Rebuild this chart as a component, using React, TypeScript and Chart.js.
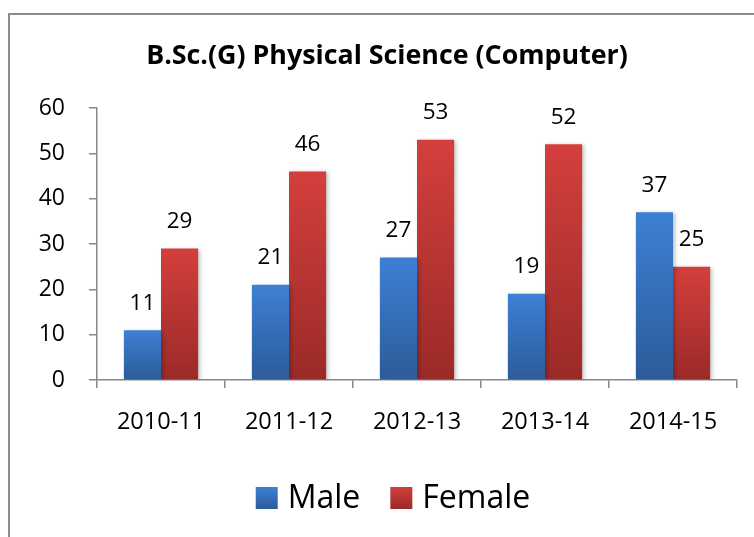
import React, { useEffect, useRef } from "react";
import { Chart, registerables } from "chart.js";

Chart.register(...registerables);

const TITLE = "B.Sc.(G) Physical Science (Computer)";
const CATEGORIES = ["2010-11", "2011-12", "2012-13", "2013-14", "2014-15"];
const MALE = [11, 21, 27, 19, 37];
const FEMALE = [29, 46, 53, 52, 25];
const SERIES_NAMES = ["Male", "Female"];
const Y_TICKS = [0, 10, 20, 30, 40, 50, 60];

const FONT = "'Open Sans', 'DejaVu Sans', sans-serif";

const BLUE_TOP = "#3d80d4";
const BLUE_BOT = "#2c5b99";
const RED_TOP = "#d43f3c";
const RED_BOT = "#9a2a28";

function gradientFill(top: string, bottom: string) {
  return (ctx: any) => {
    const chart = ctx.chart;
    const y = chart.scales && chart.scales.y;
    if (!y || ctx.type !== "data") return top;
    const v = ctx.raw as number;
    const yTop = y.getPixelForValue(v);
    const yBot = y.getPixelForValue(0);
    if (!isFinite(yTop) || !isFinite(yBot) || yTop === yBot) return top;
    const g = chart.ctx.createLinearGradient(0, yTop, 0, yBot);
    g.addColorStop(0, top);
    g.addColorStop(1, bottom);
    return g;
  };
}

const shadowPlugin = {
  id: "barShadow",
  beforeDatasetsDraw(chart: any) {
    const c = chart.ctx;
    c.save();
    c.shadowColor = "rgba(0,0,0,0.25)";
    c.shadowBlur = 4;
    c.shadowOffsetX = 2;
    c.shadowOffsetY = 1;
  },
  afterDatasetsDraw(chart: any) {
    chart.ctx.restore();
  },
};

const labelsPlugin = {
  id: "valueLabels",
  afterDatasetsDraw(chart: any) {
    const c = chart.ctx;
    c.save();
    c.fillStyle = "#000";
    c.font = `22.5px ${FONT}`;
    c.textAlign = "center";
    c.textBaseline = "middle";
    chart.data.datasets.forEach((ds: any, i: number) => {
      const meta = chart.getDatasetMeta(i);
      meta.data.forEach((bar: any, j: number) => {
        c.fillText(String(ds.data[j]), bar.x, bar.y - 27);
      });
    });
    c.restore();
  },
};

const titleLegendPlugin = {
  id: "titleLegend",
  afterDraw(chart: any) {
    const c = chart.ctx;
    c.save();
    // title
    c.fillStyle = "#000";
    c.font = `bold 26.8px ${FONT}`;
    c.textAlign = "center";
    c.textBaseline = "middle";
    c.fillText(TITLE, 387, 56);
    // legend
    c.font = `32px ${FONT}`;
    c.textAlign = "left";
    const box = 22;
    const gap = 10;
    const spacing = 30;
    const widths = chart.data.datasets.map((d: any) => c.measureText(d.label).width);
    const total =
      widths.reduce((a: number, w: number) => a + box + gap + w, 0) +
      spacing * (widths.length - 1);
    let x = 393 - total / 2;
    const cy = 498;
    chart.data.datasets.forEach((d: any, i: number) => {
      const g = c.createLinearGradient(0, cy - box / 2, 0, cy + box / 2);
      g.addColorStop(0, d._top);
      g.addColorStop(1, d._bot);
      c.fillStyle = g;
      c.fillRect(x, cy - box / 2, box, box);
      x += box + gap;
      c.fillStyle = "#000";
      c.fillText(d.label, x, cy + 1);
      x += widths[i] + spacing;
    });
    c.restore();
  },
};

export default function App() {
  const ref = useRef<HTMLCanvasElement | null>(null);

  useEffect(() => {
    if (!ref.current) return;
    const chart = new Chart(ref.current, {
      type: "bar",
      data: {
        labels: CATEGORIES,
        datasets: [
          {
            label: SERIES_NAMES[0],
            data: MALE,
            backgroundColor: gradientFill(BLUE_TOP, BLUE_BOT),
            borderWidth: 0,
            categoryPercentage: 0.58,
            barPercentage: 1,
            _top: BLUE_TOP,
            _bot: BLUE_BOT,
          } as any,
          {
            label: SERIES_NAMES[1],
            data: FEMALE,
            backgroundColor: gradientFill(RED_TOP, RED_BOT),
            borderWidth: 0,
            categoryPercentage: 0.58,
            barPercentage: 1,
            _top: RED_TOP,
            _bot: RED_BOT,
          } as any,
        ],
      },
      options: {
        animation: false,
        responsive: false,
        maintainAspectRatio: false,
        devicePixelRatio: 1,
        layout: {
          padding: { left: 0, right: 17, top: 108, bottom: 97 },
        },
        plugins: {
          legend: { display: false },
          title: { display: false },
          tooltip: { enabled: false },
        },
        scales: {
          x: {
            grid: {
              display: true,
              drawOnChartArea: false,
              drawTicks: true,
              tickLength: 8,
              color: "#888888",
              lineWidth: 1.5,
              offset: true,
            },
            border: { display: true, color: "#888888", width: 1.5 },
            ticks: {
              color: "#000",
              font: { family: FONT, size: 23.5 },
              padding: 20,
              maxRotation: 0,
            },
            afterFit: (s: any) => {
              s.height = 60;
            },
          },
          y: {
            min: 0,
            max: 60,
            afterBuildTicks: (s: any) => {
              s.ticks = Y_TICKS.map((v) => ({ value: v }));
            },
            grid: {
              display: true,
              drawOnChartArea: false,
              drawTicks: true,
              tickLength: 8,
              color: "#888888",
              lineWidth: 1.5,
            },
            border: { display: true, color: "#888888", width: 1.5 },
            ticks: {
              color: "#000",
              font: { family: FONT, size: 23 },
              padding: 24,
            },
            afterFit: (s: any) => {
              s.width = 97;
            },
          },
        },
      },
      plugins: [shadowPlugin, labelsPlugin, titleLegendPlugin],
    });
    return () => chart.destroy();
  }, []);

  return (
    <div
      style={{
        position: "fixed",
        left: 0,
        top: 0,
        width: 754,
        height: 537,
        background: "#fff",
        overflow: "hidden",
      }}
    >
      <div
        style={{
          position: "absolute",
          left: 8,
          top: 13,
          width: 780,
          height: 600,
          border: "2px solid #8c8c8c",
          boxSizing: "border-box",
        }}
      />
      <canvas
        ref={ref}
        width={754}
        height={537}
        style={{ position: "absolute", left: 0, top: 0, width: 754, height: 537 }}
      />
    </div>
  );
}
